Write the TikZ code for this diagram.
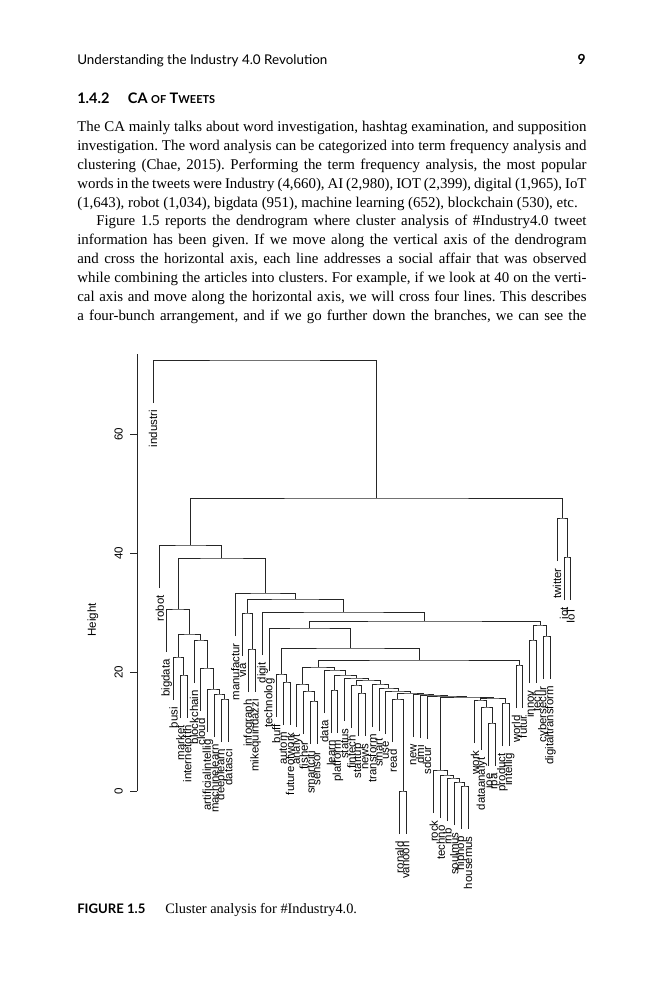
\documentclass[tikz,border=0pt]{standalone}
\usepackage{fontspec}
\setmainfont{Liberation Serif}
\newfontfamily\hdr{Lato}
\newfontfamily\dsans{Liberation Sans}
\usetikzlibrary{calc}
\frenchspacing
\newcommand\mrg[4]{%
  \coordinate (tmp) at ($(#2)!.5!(#3)$);
  \coordinate (#1) at (tmp |- 0,#4);
  \draw[tree] (#2) |- (#1) -| (#3);}
\newcommand\lf[4]{%
  \coordinate (#1) at ({153+(#2-1)*6.85},{#4+43});
  \node[lab] (#1-t) at ({153+(#2-1)*6.85},{#4+50}) {#3};}
\begin{document}
\begin{tikzpicture}[x=0.648pt,y=-0.648pt,
  lab/.style={rotate=90,anchor=east,inner sep=0pt,font=\dsans\fontsize{7.4}{8}\selectfont},
  ticklab/.style={rotate=90,anchor=south,inner sep=0pt,font=\dsans\fontsize{7.5}{8}\selectfont},
  tree/.style={line width=0.6pt,black!85},
  bodyline/.style={anchor=base west,inner sep=0pt,font=\fontsize{9.65}{12}\selectfont}]
\useasboundingbox[fill=white] (0,0) rectangle (666,1000);

% running head
\node[anchor=base west,inner sep=0pt] (head) at (77,65) {\resizebox{162pt}{!}{\hdr Understanding the Industry 4.0 Revolution}};
\node[anchor=base east,inner sep=0pt,font=\hdr\bfseries\fontsize{9}{10}\selectfont] (pno) at (586,65) {9};
% section heading
\node[anchor=base west,inner sep=0pt,font=\hdr\bfseries\fontsize{9.4}{12}\selectfont] (sec) at (77,104)
  {1.4.2\hspace{12pt}CA {\fontsize{7.1}{9}\selectfont OF} T{\fontsize{7.1}{9}\selectfont WEETS}};

% body text
\node[bodyline] (b1) at (77,131.5) {\makebox[330pt][s]{The CA mainly talks about word investigation, hashtag examination, and supposition}};
\node[bodyline] (b2) at (77,150.4) {\makebox[330pt][s]{investigation. The word analysis can be categorized into term frequency analysis and}};
\node[bodyline] (b3) at (77,169.3) {\makebox[330pt][s]{clustering (Chae, 2015). Performing the term frequency analysis, the most popular}};
\node[bodyline] (b4) at (77,188.2) {\makebox[330pt][s]{words in the tweets were Industry (4,660), AI (2,980), IOT (2,399), digital (1,965), IoT}};
\node[bodyline] (b5) at (77,207.1) {(1,643), robot (1,034), bigdata (951), machine learning (652), blockchain (530), etc.};
\node[bodyline] (b6) at (96,226.0) {\makebox[317.7pt][s]{Figure 1.5 reports the dendrogram where cluster analysis of \#Industry4.0 tweet}};
\node[bodyline] (b7) at (77,244.9) {\makebox[330pt][s]{information has been given. If we move along the vertical axis of the dendrogram}};
\node[bodyline] (b8) at (77,263.8) {\makebox[330pt][s]{and cross the horizontal axis, each line addresses a social affair that was observed}};
\node[bodyline] (b9) at (77,282.7) {\makebox[330pt][s]{while combining the articles into clusters. For example, if we look at 40 on the verti-}};
\node[bodyline] (b10) at (77,301.6) {\makebox[330pt][s]{cal axis and move along the horizontal axis, we will cross four lines. This describes}};
\node[bodyline] (b11) at (77,320.5) {\makebox[330pt][s]{a four-bunch arrangement, and if we go further down the branches, we can see the}};

% axis
\coordinate (ax0) at (137,791);
\coordinate (axtop) at (137,354);
\draw[tree] (ax0) -- (axtop);
\foreach \h/\yy in {0/791,20/672,40/553,60/434}{
  \coordinate (tk\h) at (137,\yy);
  \coordinate (tke\h) at (130,\yy);
  \draw[tree] (tk\h) -- (tke\h);
  \node[ticklab] (tl\h) at (123,\yy) {\h};
}
\node[rotate=90,inner sep=0pt,font=\dsans\fontsize{7.5}{8}\selectfont] (ylab) at (93,620) {Height};

% leaves
\lf{l1}{1}{industri}{360}
\lf{l2}{2}{robot}{545}
\lf{l3}{3}{bigdata}{609}
\lf{l4}{4}{busi}{657}
\lf{l5}{5}{market}{675}
\lf{l6}{6}{internetofth}{675}
\lf{l7}{7}{blockchain}{640}
\lf{l8}{8}{cloud}{668}
\lf{l9}{9}{artificialintellig}{689}
\lf{l10}{10}{machinelearn}{694}
\lf{l11}{11}{deeplearn}{699}
\lf{l12}{12}{datasci}{699}
\lf{l13}{13}{manufactur}{593}
\lf{l14}{14}{via}{613}
\lf{l15}{15}{infograph}{649}
\lf{l16}{16}{mikequindazzi}{649}
\lf{l17}{17}{digit}{612}
\lf{l18}{18}{technolog}{628}
\lf{l19}{19}{buff}{674}
\lf{l20}{20}{autom}{682}
\lf{l21}{21}{futureofwork}{682}
\lf{l22}{22}{analyt}{684}
\lf{l23}{23}{fisher}{691}
\lf{l24}{24}{smartciti}{701}
\lf{l25}{25}{sensor}{701}
\lf{l26}{26}{data}{670}
\lf{l27}{27}{learn}{690}
\lf{l28}{28}{platform}{690}
\lf{l29}{29}{status}{678}
\lf{l30}{30}{fintech}{685}
\lf{l31}{31}{startup}{693}
\lf{l32}{32}{news}{693}
\lf{l33}{33}{transform}{684}
\lf{l34}{34}{smart}{688}
\lf{l35}{35}{use}{691}
\lf{l36}{36}{read}{699}
\lf{l37}{37}{ronald}{791}
\lf{l38}{38}{vanoon}{791}
\lf{l39}{39}{new}{694}
\lf{l40}{40}{dmi}{695}
\lf{l41}{41}{sdcur}{696}
\lf{l42}{42}{rock}{770}
\lf{l43}{43}{techno}{775}
\lf{l44}{44}{rnb}{778}
\lf{l45}{45}{soulmus}{782}
\lf{l46}{46}{hiphop}{786}
\lf{l47}{47}{housemus}{786}
\lf{l48}{48}{work}{700}
\lf{l49}{49}{dataanalyt}{707}
\lf{l50}{50}{ioe}{723}
\lf{l51}{51}{rpa}{723}
\lf{l52}{52}{product}{703}
\lf{l53}{53}{intellig}{703}
\lf{l54}{54}{world}{665}
\lf{l55}{55}{futur}{665}
\lf{l56}{56}{innov}{640}
\lf{l57}{57}{tech}{640}
\lf{l58}{58}{cybersecur}{636}
\lf{l59}{59}{digitaltransform}{636}
\lf{l60}{60}{twitter}{518}
\lf{l61}{61}{iot}{557}
\lf{l62}{62}{IoT}{557}

% merges
\mrg{K}{l11}{l12}{699}
\mrg{J}{l10}{K}{694}
\mrg{I}{l9}{J}{689}
\mrg{H}{l8}{I}{668}
\mrg{F}{l7}{H}{640}
\mrg{G}{l5}{l6}{675}
\mrg{E}{l4}{G}{657}
\mrg{D}{E}{F}{634}
\mrg{C}{l3}{D}{609}
\mrg{IM}{l15}{l16}{649}
\mrg{O}{l14}{IM}{613}
\mrg{TL}{l56}{l57}{640}
\mrg{TR}{l58}{l59}{636}
\mrg{T}{TL}{TR}{625}
\mrg{AF}{l20}{l21}{682}
\mrg{V}{l19}{AF}{674}
\mrg{SS}{l24}{l25}{701}
\mrg{Y2}{l23}{SS}{691}
\mrg{Y}{l22}{Y2}{684}
\mrg{LP}{l27}{l28}{690}
\mrg{SN}{l31}{l32}{693}
\mrg{Q3}{l30}{SN}{685}
\mrg{RV}{l37}{l38}{791}
\mrg{RRV}{l36}{RV}{699}
\mrg{HH}{l46}{l47}{786}
\mrg{RK4}{l45}{HH}{782}
\mrg{RK3}{l44}{RK4}{778}
\mrg{RK2}{l43}{RK3}{775}
\mrg{ROCK}{l42}{RK2}{770}
\mrg{IR}{l50}{l51}{723}
\mrg{DA}{l49}{IR}{707}
\mrg{WK1}{l48}{DA}{700}
\mrg{PI}{l52}{l53}{703}
\mrg{WORK}{WK1}{PI}{698}
\mrg{Q11}{ROCK}{WORK}{697}
\mrg{Q10}{l41}{Q11}{696}
\mrg{Q9}{l40}{Q10}{695}
\mrg{Q8}{l39}{Q9}{694}
\mrg{Q7}{RRV}{Q8}{693}
\mrg{Q6}{l35}{Q7}{691}
\mrg{Q5}{l34}{Q6}{688}
\mrg{Q4}{l33}{Q5}{684}
\mrg{Q2}{Q3}{Q4}{680}
\mrg{Q1}{l29}{Q2}{678}
\mrg{Z2}{LP}{Q1}{675}
\mrg{Z}{l26}{Z2}{670}
\mrg{X}{Y}{Z}{667}
\mrg{WF}{l54}{l55}{665}
\mrg{W}{X}{WF}{660}
\mrg{U}{V}{W}{648}
\mrg{S}{l18}{U}{628}
\mrg{R}{S}{T}{621}
\mrg{P}{l17}{R}{612}
\mrg{N}{O}{P}{599}
\mrg{M}{l13}{N}{593}
\mrg{B}{C}{M}{558}
\mrg{A}{l2}{B}{545}
\mrg{IO}{l61}{l62}{557}
\mrg{TW}{l60}{IO}{518}
\mrg{RT2}{A}{TW}{498}
\mrg{RT}{l1}{RT2}{360}

% caption
\node[anchor=base west,inner sep=0pt,font=\hdr\bfseries\fontsize{8.5}{10}\selectfont] (figno) at (77,913) {FIGURE 1.5};
\node[anchor=base west,inner sep=0pt,font=\fontsize{9.3}{11}\selectfont] (cap) at (165,913) {Cluster analysis for \#Industry4.0.};
\end{tikzpicture}
\end{document}
